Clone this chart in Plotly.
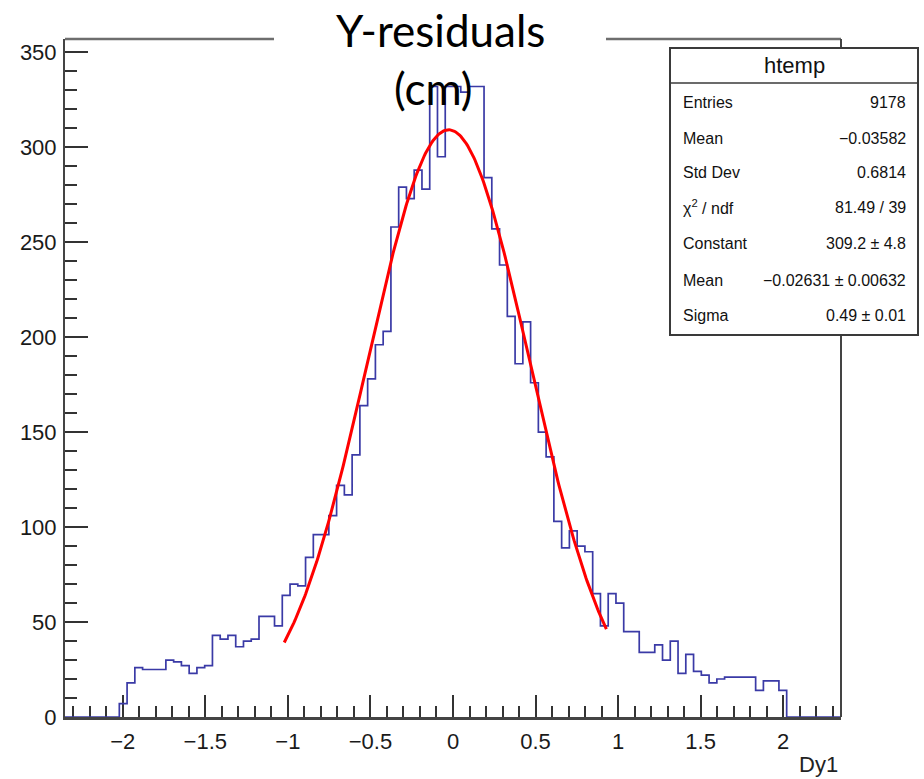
import numpy as np
import plotly.graph_objects as go

# ---------------- data ----------------
x_min, x_max, n_bins = -2.35, 2.35, 100
counts = [0, 0, 0, 0, 0, 0, 0,
          7, 18, 26, 25, 25, 25, 30, 29, 27, 23, 26, 27,
          43, 41, 43, 37, 40, 41, 53, 53, 48, 64, 70, 69,
          84, 96, 96, 106, 122, 117, 138, 164, 178, 196, 203, 258,
          279, 273, 288, 278, 332, 295, 332, 332, 329, 332, 332, 284,
          257, 238, 211, 186, 208, 176, 150, 137, 103, 89, 98, 90,
          87, 65, 48, 65, 60, 45, 45, 34, 34, 38, 30, 40,
          23, 33, 24, 22, 18, 20, 21, 21, 21, 21, 14, 19, 19, 14,
          0, 0, 0, 0, 0, 0, 0]

fit_constant = 309.2
fit_mean = -0.02631
fit_sigma = 0.49
fit_xlo, fit_xhi = -1.022, 0.929

stats_title = "htemp"
stats_labels = ["Entries", "Mean", "Std Dev", "χ<sup>2</sup> / ndf",
                "Constant", "Mean", "Sigma"]
stats_values = ["9178", "−0.03582", "0.6814", "81.49 / 39",
                "309.2 ± 4.8", "−0.02631 ± 0.00632", "0.49 ± 0.01"]

y_max = 357
x_tick_vals = [-2, -1.5, -1, -0.5, 0, 0.5, 1, 1.5, 2]
y_tick_vals = [0, 50, 100, 150, 200, 250, 300, 350]

# ---------------- geometry (pixels) ----------------
W, H = 924, 779
L, R, T, B = 65, 841, 39, 717
pw, ph = R - L, B - T

def px(xp):
    return (xp - L) / pw

def py(yp):
    return (B - yp) / ph

edges = np.linspace(x_min, x_max, n_bins + 1)
hist_y = list(counts) + [counts[-1]]

fx = np.linspace(fit_xlo, fit_xhi, 300)
fy = fit_constant * np.exp(-0.5 * ((fx - fit_mean) / fit_sigma) ** 2)

fig = go.Figure()
fig.add_trace(go.Scatter(x=edges, y=hist_y, mode="lines",
                         line=dict(shape="hv", color="#3a3aa6", width=1.7),
                         hoverinfo="skip", showlegend=False))
fig.add_trace(go.Scatter(x=fx, y=fy, mode="lines",
                         line=dict(color="#ff0000", width=3),
                         hoverinfo="skip", showlegend=False))

tick_font = dict(family="Liberation Sans, Arial, sans-serif", size=22, color="#1a1a1a")

fig.update_layout(
    width=W, height=H,
    margin=dict(l=L, r=W - R, t=T, b=H - B, pad=0),
    paper_bgcolor="white", plot_bgcolor="white",
    showlegend=False,
    xaxis=dict(range=[x_min, x_max], showgrid=False, zeroline=False,
               tickmode="array", tickvals=x_tick_vals,
               ticktext=[("−" if v < 0 else "") + ("%g" % abs(v)) for v in x_tick_vals],
               ticks="inside", ticklen=22, tickwidth=1.5, tickcolor="#333333",
               minor=dict(ticks="inside", ticklen=11, tickwidth=1.5, tickcolor="#333333",
                          dtick=0.1, tick0=0, showgrid=False),
               showline=True, linecolor="#444444", linewidth=2.5,
               tickfont=tick_font, ticklabelstandoff=3, layer="below traces"),
    yaxis=dict(range=[0, y_max], showgrid=False, zeroline=False,
               tickmode="array", tickvals=y_tick_vals,
               ticks="inside", ticklen=23, tickwidth=1.5, tickcolor="#333333",
               minor=dict(ticks="inside", ticklen=12, tickwidth=1.5, tickcolor="#333333",
                          dtick=10, tick0=0, showgrid=False),
               showline=True, linecolor="#444444", linewidth=2,
               tickfont=tick_font, ticklabelstandoff=2, layer="below traces"),
)

shapes = []
# frame top line (with gap under title) and right line
shapes.append(dict(type="line", xref="paper", yref="paper", x0=px(L), x1=px(274),
                   y0=1, y1=1, line=dict(color="#6e6e6e", width=2.5)))
shapes.append(dict(type="line", xref="paper", yref="paper", x0=px(606), x1=1,
                   y0=1, y1=1, line=dict(color="#6e6e6e", width=2.5)))
shapes.append(dict(type="line", xref="paper", yref="paper", x0=1, x1=1,
                   y0=0, y1=1, line=dict(color="#444444", width=2)))
# stats box
bx0, bx1, by0, by1, bsep = 670, 918, 48, 335, 83
shapes.append(dict(type="rect", xref="paper", yref="paper",
                   x0=px(bx0), x1=px(bx1), y0=py(by1), y1=py(by0),
                   fillcolor="white", line=dict(color="#3a3a3a", width=2), layer="above"))
shapes.append(dict(type="line", xref="paper", yref="paper",
                   x0=px(bx0), x1=px(bx1), y0=py(bsep), y1=py(bsep),
                   line=dict(color="#3a3a3a", width=1.5), layer="above"))
fig.update_layout(shapes=shapes)

ann = []
stat_font = dict(family="Liberation Sans, Arial, sans-serif", size=16, color="#111111")
ann.append(dict(text=stats_title, xref="paper", yref="paper",
                x=px((bx0 + bx1) / 2), y=py(66), xanchor="center", yanchor="middle",
                showarrow=False, font=dict(family="Liberation Sans, Arial, sans-serif",
                                           size=22, color="#111111")))
row_y = [102, 138, 172, 207, 243, 280, 315]
for lab, val, yy in zip(stats_labels, stats_values, row_y):
    ann.append(dict(text=lab, xref="paper", yref="paper", x=px(681), y=py(yy),
                    xanchor="left", yanchor="middle", showarrow=False, font=stat_font))
    ann.append(dict(text=val, xref="paper", yref="paper", x=px(908), y=py(yy),
                    xanchor="right", yanchor="middle", showarrow=False, font=stat_font))

title_font = dict(family="Lato, Open Sans, sans-serif", size=44, color="#000000")
ann.append(dict(text="Y-residuals", xref="paper", yref="paper", x=px(440), y=py(30),
                xanchor="center", yanchor="middle", showarrow=False, font=title_font))
ann.append(dict(text="(cm)", xref="paper", yref="paper", x=px(433), y=py(88),
                xanchor="center", yanchor="middle", showarrow=False, font=title_font))
ann.append(dict(text="Dy1", xref="paper", yref="paper", x=px(840), y=py(764),
                xanchor="right", yanchor="middle", showarrow=False,
                font=dict(family="Liberation Sans, Arial, sans-serif", size=22, color="#222222")))
fig.update_layout(annotations=ann)

fig.write_html("out.html", config={"displayModeBar": False},
               post_script="document.body.style.margin='0';document.body.style.overflow='hidden';")
